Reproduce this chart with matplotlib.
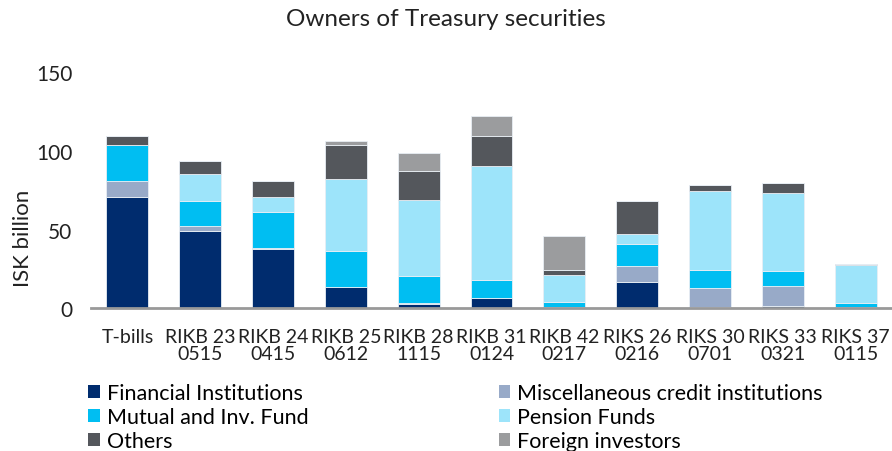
import numpy as np
import matplotlib
matplotlib.use('Agg')
import matplotlib.pyplot as plt
from matplotlib.patches import Patch

plt.rcParams['font.family'] = ['Lato', 'DejaVu Sans']

# data (ISK billion)
bonds = ['T-bills', 'RIKB 23\n0515', 'RIKB 24\n0415', 'RIKB 25\n0612', 'RIKB 28\n1115',
         'RIKB 31\n0124', 'RIKB 42\n0217', 'RIKS 26\n0216', 'RIKS 30\n0701',
         'RIKS 33\n0321', 'RIKS 37\n0115']
financial = [70.9, 49.1, 37.5, 13.3, 2.9, 6.7, 0.8, 16.9, 0.8, 1.5, 0.6]
misc_credit = [9.8, 3.2, 0.6, 0.0, 0.3, 0.0, 0.0, 9.8, 12.3, 12.7, 0.0]
mutual = [22.9, 15.9, 23.3, 22.9, 17.4, 11.5, 3.0, 14.2, 11.1, 9.3, 2.8]
pension = [0.0, 17.0, 9.5, 45.8, 48.4, 72.5, 17.6, 6.5, 50.4, 49.8, 24.3]
others = [5.9, 8.3, 9.8, 22.0, 18.1, 18.8, 3.1, 20.6, 3.6, 6.2, 0.6]
foreign = [0.0, 0.0, 0.0, 2.2, 11.3, 12.6, 21.5, 0.0, 0.0, 0.0, 0.0]

series = [
    ('Financial Institutions', financial, '#002C6E'),
    ('Miscellaneous credit institutions', misc_credit, '#98AAC8'),
    ('Mutual and Inv. Fund', mutual, '#00BEF2'),
    ('Pension Funds', pension, '#9DE4FA'),
    ('Others', others, '#54575C'),
    ('Foreign investors', foreign, '#9B9C9E'),
]

fig = plt.figure(figsize=(8.92, 4.52), dpi=100)
ax = fig.add_axes([0.102, 0.316, 0.898, 0.522])

x = np.arange(len(bonds))
bottom = np.zeros(len(bonds))
for name, vals, col in series:
    vals = np.array(vals)
    ax.bar(x, vals, width=0.575, bottom=bottom, color=col, label=name,
           edgecolor='#E8EEF4', linewidth=0.6)
    bottom += vals

ax.set_xlim(-0.5, len(bonds) - 0.5)
ax.set_ylim(0, 150)
ax.set_yticks([0, 50, 100, 150])
ax.set_xticks(x)
ax.set_xticklabels(bonds, fontsize=14, color='#222222', linespacing=1.0)
ax.tick_params(axis='y', labelsize=15, length=0, pad=13.5, colors='#222222')
ax.tick_params(axis='x', length=0, pad=14)
for s in ['top', 'right', 'left']:
    ax.spines[s].set_visible(False)
ax.spines['bottom'].set_color('#999999')
ax.spines['bottom'].set_linewidth(2)
ax.set_ylabel('ISK billion', fontsize=16, color='#222222', va='center')
ax.yaxis.set_label_coords(-0.085, 0.30)

fig.text(0.5, 0.956, 'Owners of Treasury securities', ha='center', va='center',
         fontsize=17.5, color='#222222')

handles = [Patch(facecolor=c, edgecolor='none') for _, _, c in series]
labels = [n for n, _, _ in series]
leg_kw = dict(loc='upper left', ncol=1, frameon=False, fontsize=15.5,
              handlelength=0.55, handleheight=0.55, handletextpad=0.3,
              labelspacing=0.2, borderaxespad=0, borderpad=0)
col1 = [0, 2, 4]
col2 = [1, 3, 5]
fig.legend([handles[i] for i in col1], [labels[i] for i in col1],
           bbox_to_anchor=(0.099, 0.151), **leg_kw)
fig.legend([handles[i] for i in col2], [labels[i] for i in col2],
           bbox_to_anchor=(0.559, 0.151), **leg_kw)

fig.savefig('out.png', dpi=100)
